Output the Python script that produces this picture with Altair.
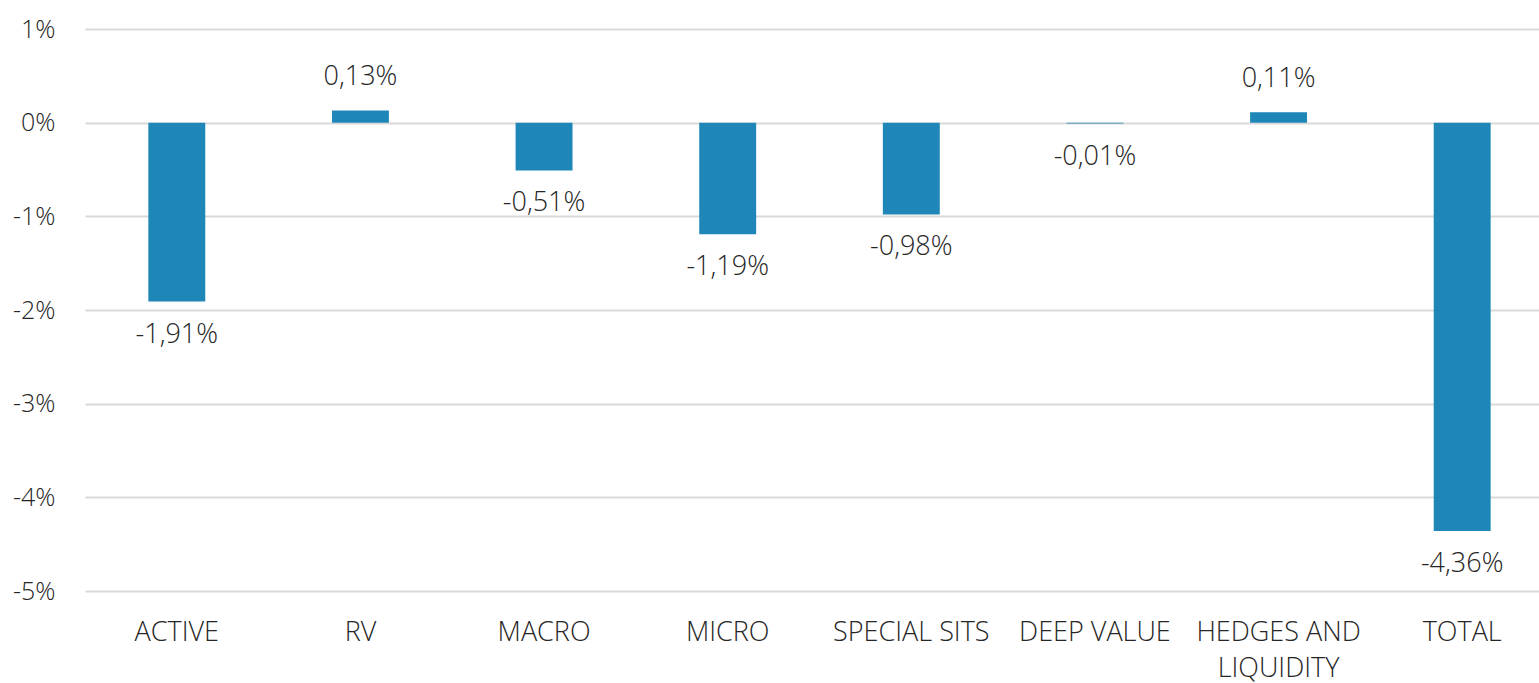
import altair as alt
import pandas as pd

categories = ["ACTIVE", "RV", "MACRO", "MICRO", "SPECIAL SITS", "DEEP VALUE",
              "HEDGES AND|LIQUIDITY", "TOTAL"]
values_pct = [-1.91, 0.13, -0.51, -1.19, -0.98, -0.01, 0.11, -4.36]
y_ticks_pct = [1, 0, -1, -2, -3, -4, -5]

df = pd.DataFrame({"cat": categories, "v": [v / 100 for v in values_pct]})

FONT = "Open Sans"
TXT = "#262626"
BAR = "#1f87b8"

x = alt.X("cat:N", sort=categories, title=None,
          scale=alt.Scale(range=[0, 1469], paddingInner=0.69, paddingOuter=0.345),
          axis=alt.Axis(labelAngle=0, labelFontSize=27, labelFont=FONT, labelFontWeight=300,
                        labelColor=TXT, ticks=False, domain=False, labelPadding=41,
                        labelExpr="split(datum.label, '|')", labelLineHeight=36,
                        labelBaseline="middle", grid=False))
y = alt.Y("v:Q", title=None,
          scale=alt.Scale(domain=[-0.05, 0.01], nice=False),
          axis=alt.Axis(values=[t / 100 for t in y_ticks_pct], labelFontSize=25, labelFont=FONT,
                        labelFontWeight=300, labelColor=TXT, ticks=False, domain=False,
                        labelPadding=30, gridColor="#d9d9d9", gridWidth=2,
                        labelExpr="replace(format(datum.value, '.0%'), '\u2212', '-')"))

base = alt.Chart(df)
bars = base.mark_bar(color=BAR).encode(x=x, y=y, y2=alt.datum(0))

lab = "replace(replace(format(datum.v, '.2%'), '.', ','), '\u2212', '-')"
txt_pos = base.transform_filter("datum.v >= 0").transform_calculate(lab=lab).mark_text(
    font=FONT, fontSize=27, fontWeight=300, color=TXT, baseline="middle", dy=-33
).encode(x=alt.X("cat:N", sort=categories), y="v:Q", text="lab:N")
txt_neg = base.transform_filter("datum.v < 0").transform_calculate(lab=lab).mark_text(
    font=FONT, fontSize=27, fontWeight=300, color=TXT, baseline="middle", dy=33
).encode(x=alt.X("cat:N", sort=categories), y="v:Q", text="lab:N")

chart = alt.layer(bars, txt_pos, txt_neg).properties(
    width=1454, height=562,
    background="white",
    autosize=alt.AutoSizeParams(type="none"),
    padding={"left": 85, "top": 29, "right": 0, "bottom": 92},
).configure_view(strokeWidth=0, stroke="transparent")

chart.save("out.html", embed_options={"renderer": "svg", "actions": False})
